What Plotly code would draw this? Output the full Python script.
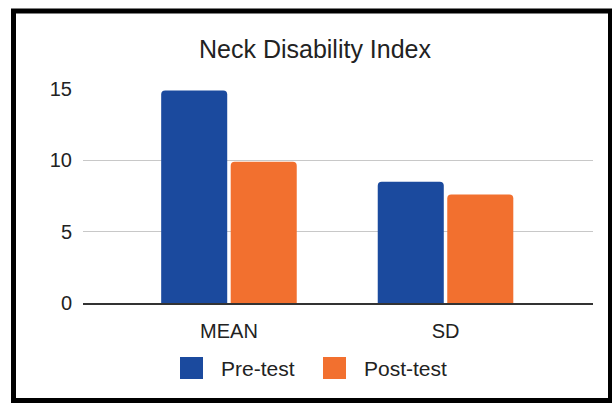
import plotly.graph_objects as go

# ---- data ----
categories = ["MEAN", "SD"]
series_names = ["Pre-test", "Post-test"]
pre_test = [14.9, 8.5]
post_test = [9.9, 7.6]
y_ticks = [0, 5, 10, 15]
chart_title = "Neck Disability Index"

# ---- styling ----
colors = ["#1b4a9e", "#f2702f"]
font_family = "Liberation Sans, Arial, Helvetica, sans-serif"
text_color = "#222222"

W, H = 612, 403
L, R, T, B = 83, 19, 89, 100
PW, PH = W - L - R, H - T - B


def paper_x(px):
    """Pixel column -> paper x."""
    return (px - L) / PW


def paper_y(py):
    """Pixel row -> paper y."""
    return (H - B - py) / PH


fig = go.Figure()
for name, values, color in zip(series_names, [pre_test, post_test], colors):
    fig.add_trace(
        go.Bar(
            x=categories,
            y=values,
            name=name,
            marker=dict(color=color, line=dict(width=0)),
            showlegend=False,
        )
    )

# legend drawn as large swatches with text next to them
legend_items = [(180, 219), (323, 362)]
shapes = []
annotations = []
for (sx, tx), name, color in zip(legend_items, series_names, colors):
    shapes.append(
        dict(
            type="rect", xref="paper", yref="paper",
            x0=paper_x(sx), x1=paper_x(sx + 23),
            y0=paper_y(357), y1=paper_y(379),
            fillcolor=color, line=dict(width=0), layer="above",
        )
    )
    annotations.append(
        dict(
            text=name, xref="paper", yref="paper",
            x=paper_x(tx), y=paper_y(368),
            xanchor="left", yanchor="middle", showarrow=False,
            font=dict(family=font_family, size=21, color=text_color),
        )
    )

# outer frame
shapes.append(
    dict(
        type="rect", xref="paper", yref="paper",
        x0=paper_x(13.5), x1=paper_x(610.5),
        y0=paper_y(400.5), y1=paper_y(11),
        line=dict(color="#000000", width=5), fillcolor="rgba(0,0,0,0)",
        layer="above",
    )
)

fig.update_layout(
    width=W,
    height=H,
    margin=dict(l=L, r=R, t=T, b=B, pad=0),
    paper_bgcolor="#ffffff",
    plot_bgcolor="#ffffff",
    barmode="group",
    bargap=0.358,
    bargroupgap=0.05,
    barcornerradius=4,
    showlegend=False,
    font=dict(family=font_family, color=text_color),
    title=dict(
        text=chart_title,
        x=315 / W, xref="container", xanchor="center",
        y=1 - 49 / H, yref="container", yanchor="middle",
        font=dict(family=font_family, size=25, color=text_color),
    ),
    xaxis=dict(
        type="category",
        range=[-0.674, 1.681],
        showgrid=False,
        zeroline=False,
        showline=True,
        linecolor="#333333",
        linewidth=1.5,
        ticks="",
        tickfont=dict(size=20, color=text_color),
        ticklabelstandoff=9,
        fixedrange=True,
    ),
    yaxis=dict(
        range=[0, 15],
        tickvals=y_ticks,
        showgrid=True,
        gridcolor="#c8c8c8",
        gridwidth=1,
        zeroline=False,
        showline=False,
        ticks="",
        tickfont=dict(size=20, color=text_color),
        ticklabelstandoff=10,
        fixedrange=True,
    ),
    shapes=shapes,
    annotations=annotations,
)

fig.write_html("out.html", config={"displayModeBar": False})
